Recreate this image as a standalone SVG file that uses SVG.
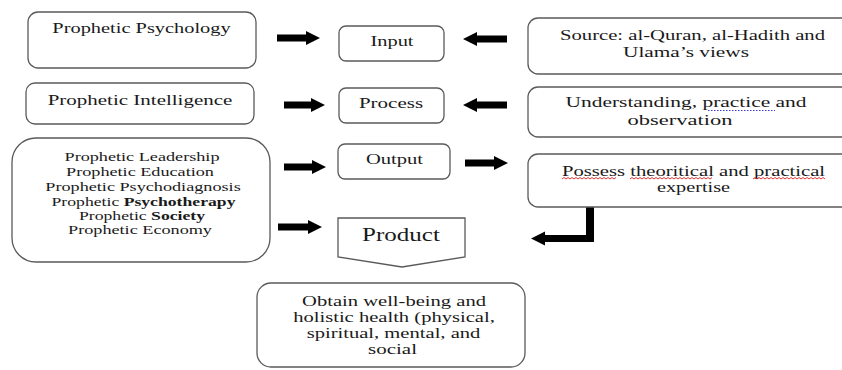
<svg xmlns="http://www.w3.org/2000/svg" width="842" height="370" viewBox="0 0 842 370">
<style>
.box{fill:#fff;stroke:#5a5a5a;stroke-width:1.3}
.t{font-family:"Liberation Serif","Times New Roman",serif;font-size:15px;fill:#1a1a1a;text-anchor:middle}
.s{font-size:13px}
.m{font-size:14px}
.b{font-weight:bold}
.arr{fill:#000}
.wavy{fill:none;stroke:#e02020;stroke-width:0.9}
.dot{fill:none;stroke:#3a3ad0;stroke-width:1;stroke-dasharray:1.5 1.5}
</style>
<rect width="842" height="370" fill="#fff"/>
<g id="connectors">
<polygon class="arr" points="277,34.5 306,34.5 306,31 320,38 306,45 306,41.5 277,41.5"/>
<polygon class="arr" points="507,35.5 477,35.5 477,32 463,39 477,46 477,42.5 507,42.5"/>
<polygon class="arr" points="284,101.5 311,101.5 311,98 325,105 311,112 311,108.5 284,108.5"/>
<polygon class="arr" points="507,101.5 477,101.5 477,98 463,105 477,112 477,108.5 507,108.5"/>
<polygon class="arr" points="284,163.5 312,163.5 312,160 326,167 312,174 312,170.5 284,170.5"/>
<polygon class="arr" points="465,159.5 494,159.5 494,156 508,163 494,170 494,166.5 465,166.5"/>
<polygon class="arr" points="278,223.5 308,223.5 308,220 322,227 308,234 308,230.5 278,230.5"/>
<path class="arr" d="M586,205 H594 V242 H545 V245.5 L531,238.5 L545,231.5 V235 H586 Z"/>
</g>
<g id="prophetic-psychology">
<rect class="box" x="28" y="12" width="228" height="56" rx="10"/>
<text class="t" transform="translate(141.5 33) scale(1.36 1)">Prophetic Psychology</text>
</g>
<g id="prophetic-intelligence">
<rect class="box" x="26" y="83" width="228" height="41" rx="9"/>
<text class="t" transform="translate(140 105) scale(1.40 1)">Prophetic Intelligence</text>
</g>
<g id="prophetic-fields">
<rect class="box" x="12" y="138" width="258" height="124" rx="24"/>
<text class="t s" transform="translate(142 161) scale(1.40 1)">Prophetic Leadership</text>
<text class="t s" transform="translate(140 176) scale(1.40 1)">Prophetic Education</text>
<text class="t s" transform="translate(143 191) scale(1.40 1)">Prophetic Psychodiagnosis</text>
<text class="t s" transform="translate(143.5 206) scale(1.36 1)">Prophetic <tspan class="b">Psychotherapy</tspan></text>
<text class="t s" transform="translate(142 220) scale(1.36 1)">Prophetic <tspan class="b">Society</tspan></text>
<text class="t s" transform="translate(140 234) scale(1.40 1)">Prophetic Economy</text>
</g>
<g id="input">
<rect class="box" x="339" y="26" width="105" height="35" rx="7"/>
<text class="t" transform="translate(392 46) scale(1.36 1)">Input</text>
</g>
<g id="process">
<rect class="box" x="339" y="88" width="105" height="35" rx="7"/>
<text class="t" transform="translate(391 108) scale(1.40 1)">Process</text>
</g>
<g id="output">
<rect class="box" x="338" y="144" width="112" height="35" rx="7"/>
<text class="t" transform="translate(394.5 164) scale(1.37 1)">Output</text>
</g>
<g id="product">
<polygon class="box" points="338,218 465,218 465,257 402,267 338,257"/>
<text class="t" style="font-size:18px" transform="translate(401 241) scale(1.39 1)">Product</text>
</g>
<g id="source">
<rect class="box" x="528" y="18" width="330" height="56" rx="10"/>
<text class="t" transform="translate(692.5 40) scale(1.377 1)">Source: al-Quran, al-Hadith and</text>
<text class="t" transform="translate(686 57) scale(1.42 1)">Ulama’s views</text>
</g>
<g id="understanding">
<rect class="box" x="528" y="87" width="330" height="50" rx="10"/>
<text class="t" transform="translate(686 107) scale(1.43 1)">Understanding, practice and</text>
<text class="t" transform="translate(680 125) scale(1.5 1)">observation</text>
<path class="dot" d="M708,110.5 H775"/>
</g>
<g id="possess">
<rect class="box" x="528" y="154" width="330" height="53" rx="10"/>
<text class="t" transform="translate(693.5 176) scale(1.376 1)">Possess theoritical and practical</text>
<text class="t" transform="translate(693.5 192) scale(1.35 1)">expertise</text>
<path class="wavy" d="M562,179 l2,-1.5 l2,1.5 l2,-1.5 l2,1.5 l2,-1.5 l2,1.5 l2,-1.5 l2,1.5 l2,-1.5 l2,1.5 l2,-1.5 l2,1.5 l2,-1.5 l2,1.5 l2,-1.5 l2,1.5 l2,-1.5 l2,1.5 l2,-1.5 l2,1.5 l2,-1.5 l2,1.5 l2,-1.5 l2,1.5 l2,-1.5 l2,1.5 l2,-1.5"/>
<path class="wavy" d="M630,179 l2,-1.5 l2,1.5 l2,-1.5 l2,1.5 l2,-1.5 l2,1.5 l2,-1.5 l2,1.5 l2,-1.5 l2,1.5 l2,-1.5 l2,1.5 l2,-1.5 l2,1.5 l2,-1.5 l2,1.5 l2,-1.5 l2,1.5 l2,-1.5 l2,1.5 l2,-1.5 l2,1.5 l2,-1.5 l2,1.5 l2,-1.5 l2,1.5 l2,-1.5 l2,1.5 l2,-1.5 l2,1.5 l2,-1.5 l2,1.5 l2,-1.5 l2,1.5 l2,-1.5 l2,1.5 l2,-1.5 l2,1.5 l2,-1.5 l2,1.5 l2,-1.5"/>
<path class="wavy" d="M753,179 l2,-1.5 l2,1.5 l2,-1.5 l2,1.5 l2,-1.5 l2,1.5 l2,-1.5 l2,1.5 l2,-1.5 l2,1.5 l2,-1.5 l2,1.5 l2,-1.5 l2,1.5 l2,-1.5 l2,1.5 l2,-1.5 l2,1.5 l2,-1.5 l2,1.5 l2,-1.5 l2,1.5 l2,-1.5 l2,1.5 l2,-1.5 l2,1.5 l2,-1.5 l2,1.5 l2,-1.5 l2,1.5 l2,-1.5 l2,1.5 l2,-1.5 l2,1.5 l2,-1.5 l2,1.5"/>
</g>
<g id="wellbeing">
<rect class="box" x="257" y="283" width="268" height="84" rx="14"/>
<text class="t m" transform="translate(394 306) scale(1.47 1)">Obtain well-being and</text>
<text class="t m" transform="translate(394 322) scale(1.47 1)">holistic health (physical,</text>
<text class="t m" transform="translate(393.5 338) scale(1.47 1)">spiritual, mental, and</text>
<text class="t m" transform="translate(392.5 354) scale(1.50 1)">social</text>
</g>
</svg>
